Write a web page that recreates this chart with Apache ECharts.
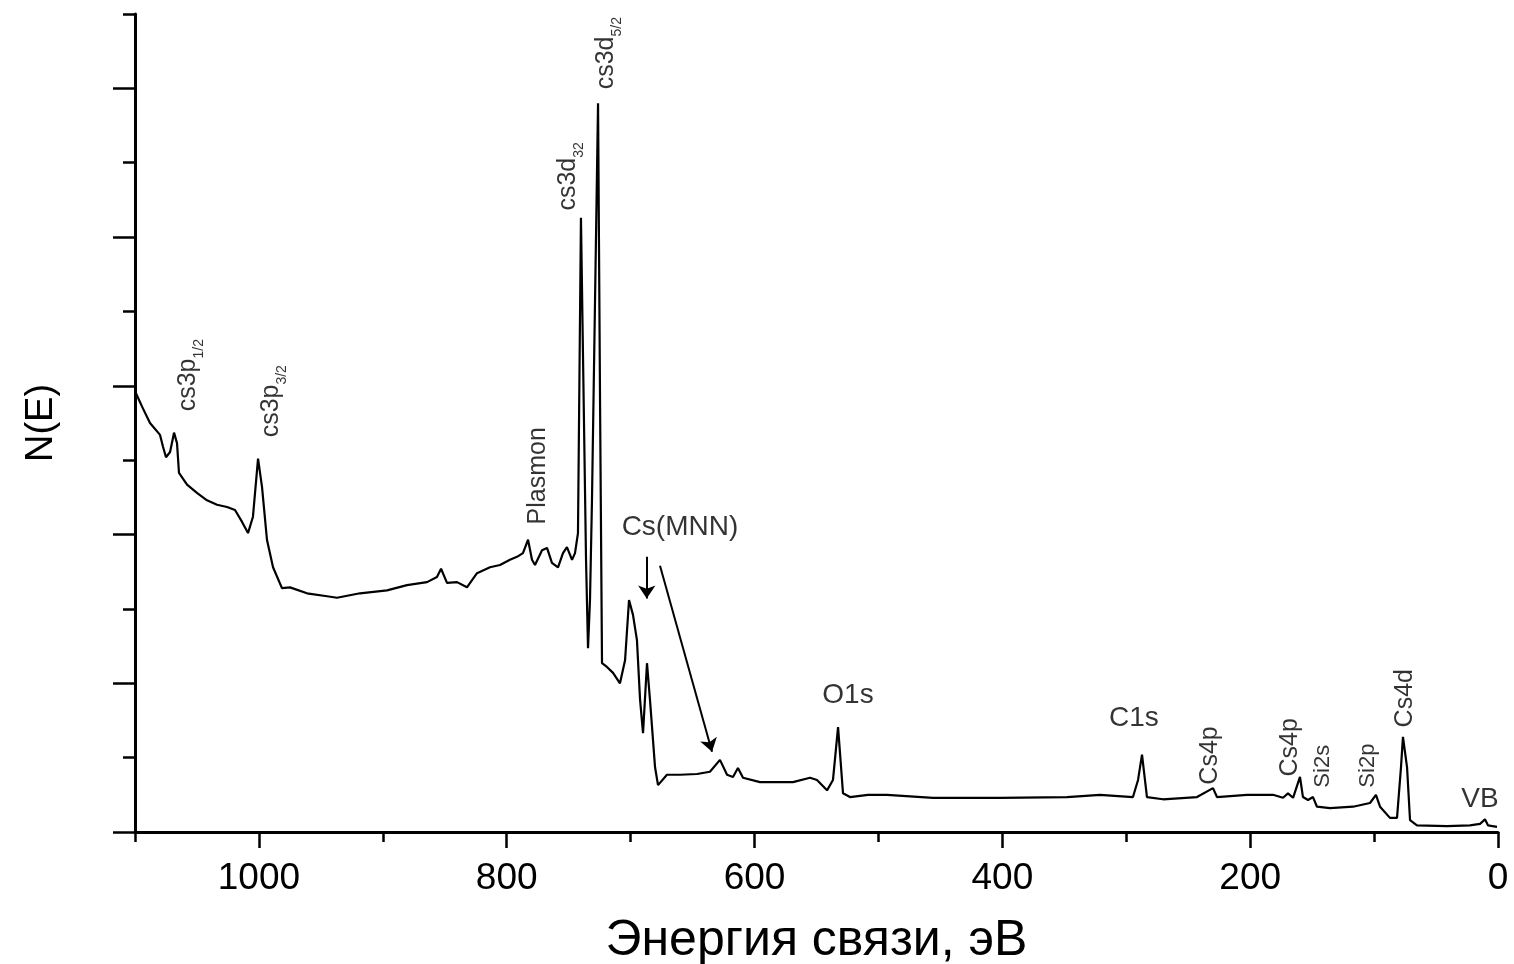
<!DOCTYPE html>
<html>
<head>
<meta charset="utf-8">
<script src="https://cdn.jsdelivr.net/npm/echarts@6/dist/echarts.min.js"></script>
<style>
  html, body { margin: 0; padding: 0; background: #fff; }
  #chart { width: 1514px; height: 964px; }
</style>
</head>
<body>
<div id="chart"></div>
<script>
// binding energy, eV
var energy = [
  1100.0, 1099.2, 1094.3, 1087.9, 1079.8, 1077.4, 1075.0, 1071.7, 1068.5, 1066.1,
  1064.5, 1058.0, 1050.0, 1041.9, 1033.8, 1025.7, 1019.3, 1013.6, 1008.8, 1004.8,
  1000.7, 997.5, 993.5, 988.6, 981.4, 974.9, 961.2, 945.0, 937.0, 918.4,
  896.6, 880.5, 864.3, 856.3, 853.0, 848.2, 840.1, 832.1, 824.0, 813.5,
  805.4, 797.4, 791.7, 786.9, 782.8, 779.6, 777.2, 771.5, 767.5, 763.5,
  758.6, 754.6, 751.4, 747.3, 744.9, 742.5, 740.1, 736.0, 734.4, 732.8,
  731.2, 726.3, 724.7, 723.1, 719.1, 714.2, 708.6, 704.5, 701.3, 698.1,
  694.9, 692.4, 690.0, 686.8, 684.4, 680.3, 677.9, 670.7, 660.2, 646.4,
  636.0, 627.9, 622.2, 617.4, 613.4, 609.3, 595.6, 569.0, 555.2, 549.6,
  541.5, 536.7, 532.6, 528.6, 523.0, 508.4, 493.1, 456.0, 401.9, 347.8,
  321.2, 294.6, 290.5, 287.3, 283.3, 270.4, 242.9, 230.0, 226.8, 202.6,
  181.6, 173.5, 169.5, 165.4, 159.8, 157.4, 153.3, 149.3, 146.1, 135.6,
  117.0, 103.3, 98.5, 95.2, 87.2, 81.5, 78.3, 76.7, 73.4, 71.0,
  65.4, 41.2, 22.6, 14.5, 10.5, 8.1, 0.8
];
// N(E), arbitrary units
var intensity = [
  5.97, 5.90, 5.72, 5.50, 5.34, 5.18, 5.04, 5.11, 5.37, 5.23,
  4.83, 4.67, 4.56, 4.46, 4.40, 4.37, 4.33, 4.17, 4.02, 4.24,
  5.02, 4.64, 3.93, 3.56, 3.28, 3.29, 3.21, 3.17, 3.15, 3.21,
  3.25, 3.32, 3.36, 3.43, 3.54, 3.35, 3.36, 3.29, 3.48, 3.56,
  3.59, 3.66, 3.70, 3.75, 3.93, 3.66, 3.59, 3.79, 3.82, 3.62,
  3.56, 3.75, 3.83, 3.66, 3.75, 4.02, 8.26, 3.66, 2.47, 3.12,
  4.46, 9.80, 5.81, 2.27, 2.22, 2.14, 2.00, 2.31, 3.12, 2.92,
  2.58, 1.78, 1.33, 2.27, 1.78, 0.87, 0.63, 0.77, 0.77, 0.78,
  0.81, 0.97, 0.77, 0.74, 0.86, 0.73, 0.67, 0.67, 0.73, 0.70,
  0.56, 0.70, 1.41, 0.52, 0.47, 0.50, 0.50, 0.46, 0.46, 0.47,
  0.50, 0.47, 0.70, 1.04, 0.47, 0.44, 0.47, 0.59, 0.47, 0.50,
  0.50, 0.46, 0.52, 0.46, 0.74, 0.47, 0.43, 0.47, 0.34, 0.32,
  0.34, 0.39, 0.50, 0.34, 0.19, 0.19, 0.87, 1.28, 0.87, 0.16,
  0.09, 0.08, 0.09, 0.11, 0.17, 0.09, 0.07
];

var xMajorTicks = [0, 200, 400, 600, 800, 1000];
var xMinorTicks = [100, 300, 500, 700, 900, 1100];
var yMajorTicks = [0, 2, 4, 6, 8, 10];
var yMinorTicks = [1, 3, 5, 7, 9, 11];

// vertical peak labels: text, subscript, eV, N(E) where the text starts
var vertLabels = [
  ['cs3p', '1/2', 1057.2, 5.65],
  ['cs3p', '3/2', 990.2, 5.30],
  ['Plasmon', '', 774.8, 4.13],
  ['cs3d', '32', 750.5, 8.35],
  ['cs3d', '5/2', 719.9, 9.98],
  ['Cs4p', '', 232.4, 0.63],
  ['Cs4p', '', 167.9, 0.74],
  ['Si2s', '', 141.2, 0.59],
  ['Si2p', '', 104.9, 0.59],
  ['Cs4d', '', 75.1, 1.40]
];
// horizontal labels: text, eV, N(E) at the text centre
var horizLabels = [
  ['Cs(MNN)', 660.2, 4.09],
  ['O1s', 524.6, 1.83],
  ['C1s', 293.8, 1.52],
  ['VB', 14.5, 0.43]
];
// arrows from -> to
var arrows = [
  [[687.0, 3.70], [687.0, 3.14]],
  [[676.3, 3.58], [634.3, 1.08]]
];

var spectrum = energy.map(function (e, i) { return [e, intensity[i]]; });

var sans = '"Liberation Sans", Arial, sans-serif';

var labelData = vertLabels.map(function (l) {
  var small = l[0].indexOf('Si') === 0;
  return {
    value: [l[2], l[3]],
    label: {
      show: true,
      position: 'top',
      distance: 0,
      rotate: 90,
      align: 'left',
      verticalAlign: 'middle',
      formatter: l[1] ? '{m|' + l[0] + '}{s|' + l[1] + '}' : '{m|' + l[0] + '}',
      rich: {
        m: { fontFamily: sans, fontSize: small ? 22 : 25, color: '#000', lineHeight: 36 },
        s: { fontFamily: sans, fontSize: 14, color: '#000', lineHeight: 14, verticalAlign: 'bottom' }
      }
    }
  };
}).concat(horizLabels.map(function (l) {
  return {
    value: [l[1], l[2]],
    label: {
      show: true,
      position: 'top',
      distance: 0,
      align: 'center',
      verticalAlign: 'middle',
      formatter: l[0],
      fontFamily: sans,
      fontSize: 28,
      color: '#000',
      textBorderWidth: 0
    }
  };
}));

var chart = echarts.init(document.getElementById('chart'));
var axisLineStyle = { color: '#000', width: 3 };
var option = {
  animation: false,
  backgroundColor: '#fff',
  grid: { left: 135, right: 16, top: 14, bottom: 132, containLabel: false, outerBoundsMode: 'none' },
  xAxis: [
    {
      type: 'value', inverse: true, min: 0, max: 1100, position: 'bottom',
      axisLine: { onZero: false, lineStyle: axisLineStyle },
      axisTick: { show: true, length: 16, customValues: xMajorTicks, lineStyle: { color: '#000', width: 2.5 } },
      axisLabel: {
        customValues: xMajorTicks, margin: 28, color: '#000',
        fontFamily: sans, fontSize: 37,
        formatter: function (v) { return String(v); }
      },
      splitLine: { show: false },
      name: 'Энергия связи, эВ', nameLocation: 'middle', nameGap: 84,
      nameTextStyle: { color: '#000', fontFamily: sans, fontSize: 50 }
    },
    {
      type: 'value', inverse: true, min: 0, max: 1100, position: 'bottom', offset: 0,
      axisLine: { show: false, onZero: false },
      axisTick: { show: true, length: 10, customValues: xMinorTicks, lineStyle: { color: '#000', width: 2.5 } },
      axisLabel: { show: false },
      splitLine: { show: false }
    }
  ],
  yAxis: [
    {
      type: 'value', min: 0, max: 11, position: 'left',
      axisLine: { show: true, onZero: false, lineStyle: axisLineStyle },
      axisTick: { show: true, length: 22, customValues: yMajorTicks, lineStyle: { color: '#000', width: 2.5 } },
      axisLabel: { show: false },
      splitLine: { show: false },
      name: 'N(E)', nameLocation: 'middle', nameGap: 74,
      nameTextStyle: { color: '#000', fontFamily: sans, fontSize: 38 }
    },
    {
      type: 'value', min: 0, max: 11, position: 'left', offset: 0,
      axisLine: { show: false, onZero: false },
      axisTick: { show: true, length: 12, customValues: yMinorTicks, lineStyle: { color: '#000', width: 2.5 } },
      axisLabel: { show: false },
      splitLine: { show: false }
    }
  ],
  series: [
    {
      name: 'spectrum',
      type: 'line',
      data: spectrum,
      showSymbol: false,
      symbol: 'none',
      lineStyle: { color: '#000', width: 2.2 },
      silent: true,
      markLine: {
        silent: true,
        symbol: ['none', 'arrow'],
        symbolSize: 13,
        lineStyle: { color: '#000', width: 2, type: 'solid' },
        label: { show: false },
        data: arrows.map(function (a) {
          return [{ coord: a[0] }, { coord: a[1] }];
        })
      }
    },
    {
      name: 'labels',
      type: 'scatter',
      symbolSize: 1,
      itemStyle: { color: 'rgba(0,0,0,0)' },
      silent: true,
      data: labelData
    }
  ]
};
chart.setOption(option);
</script>
</body>
</html>
